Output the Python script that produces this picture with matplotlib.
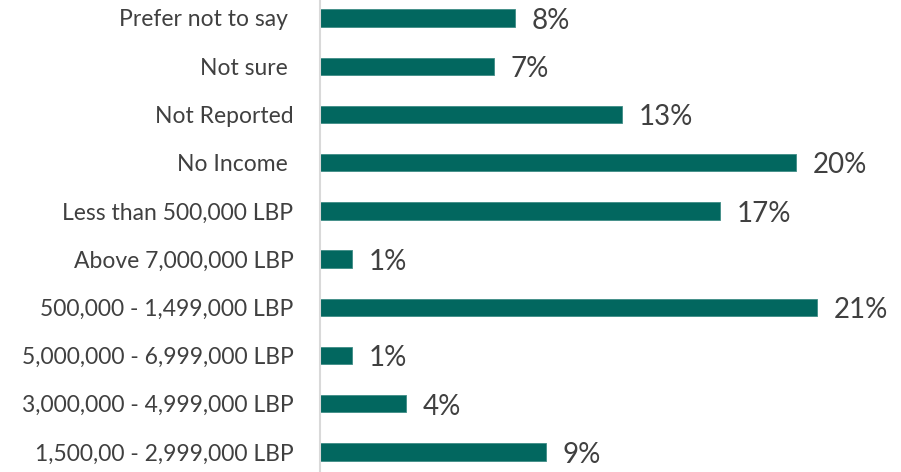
import matplotlib.pyplot as plt

# categories listed bottom to top, as drawn on the y axis
categories = ["1,500,00 - 2,999,000 LBP", "3,000,000 - 4,999,000 LBP",
              "5,000,000 - 6,999,000 LBP", "500,000 - 1,499,000 LBP",
              "Above 7,000,000 LBP", "Less than 500,000 LBP", "No Income ",
              "Not Reported", "Not sure ", "Prefer not to say "]
shares = [9.5, 3.6, 1.35, 20.9, 1.35, 16.8, 20.0, 12.7, 7.3, 8.2]
share_labels = ["9%", "4%", "1%", "21%", "1%", "17%", "20%", "13%", "7%", "8%"]

bar_color = "#02675F"
text_color = "#404040"

plt.rcParams['font.family'] = ['Lato', 'DejaVu Sans']

fig = plt.figure(figsize=(9.01, 4.72), dpi=100)
ax = fig.add_axes([320 / 901, 0, 581 / 901, 1])

y = range(len(categories))
ax.barh(y, shares, height=0.36, color=bar_color, edgecolor="#3f8c86", linewidth=0.6)

for i, (v, lab) in enumerate(zip(shares, share_labels)):
    ax.annotate(lab, (v, i), xytext=(12, -2), textcoords="offset points",
                ha="left", va="center", fontsize=20, color=text_color)

ax.set_yticks(list(y))
ax.set_yticklabels(categories, fontsize=16.5, color=text_color)
ax.tick_params(axis="y", length=0, pad=19)
ax.set_xticks([])
ax.set_xlim(0, 581 / 23.8)
ax.set_ylim(-0.415, 9.373)

for side in ["top", "right", "bottom"]:
    ax.spines[side].set_visible(False)
ax.spines["left"].set_color("#D9D9D9")
ax.spines["left"].set_linewidth(1.5)

fig.savefig("out.png", dpi=100)
